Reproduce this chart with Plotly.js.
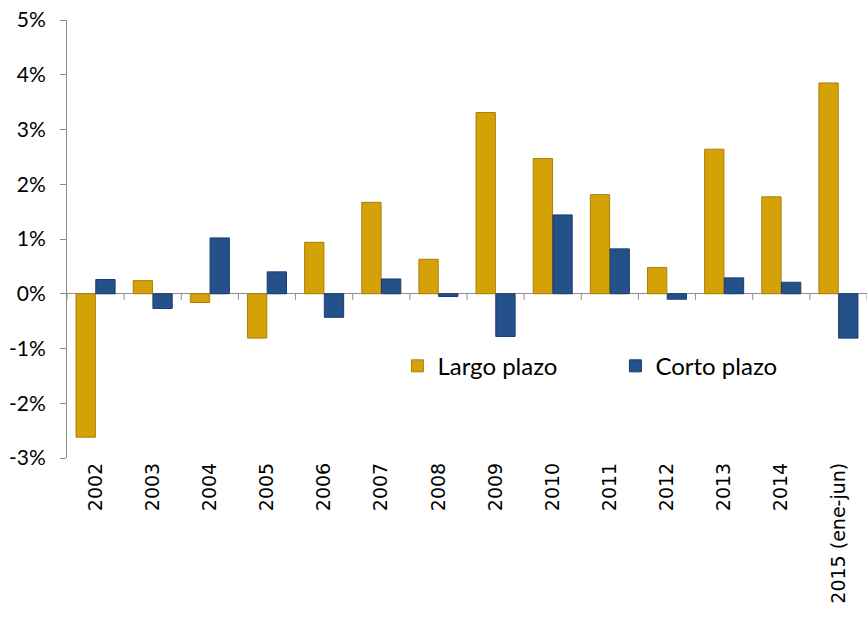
<!DOCTYPE html>
<html>
<head>
<meta charset="utf-8">
<script src="https://cdn.plot.ly/plotly-3.0.1.min.js"></script>
<style>html,body{margin:0;padding:0;background:#fff;}#chart{width:867px;height:621px;}</style>
</head>
<body>
<div id="chart"></div>
<script>
const categories = ["2002","2003","2004","2005","2006","2007","2008","2009","2010","2011","2012","2013","2014","2015 (ene-jun)"];
const largoPlazo = [-2.62, 0.24, -0.16, -0.81, 0.94, 1.67, 0.63, 3.31, 2.47, 1.81, 0.48, 2.64, 1.77, 3.85];
const cortoPlazo = [0.26, -0.27, 1.02, 0.40, -0.43, 0.27, -0.05, -0.78, 1.44, 0.82, -0.10, 0.29, 0.21, -0.81];
const yTicks = [-3, -2, -1, 0, 1, 2, 3, 4, 5];

const traces = [
  {type:'bar', name:'Largo plazo', x:categories, y:largoPlazo,
   marker:{color:'#D4A106', line:{color:'#A88008', width:1}}},
  {type:'bar', name:'Corto plazo', x:categories, y:cortoPlazo,
   marker:{color:'#24518A', line:{color:'#1A3D6A', width:1}}}
];

const shapes = [];
for (let i = 0; i <= categories.length; i++) {
  shapes.push({type:'line', xref:'x', yref:'y', x0:i-0.5, x1:i-0.5,
    ysizemode:'pixel', yanchor:0, y0:0, y1:-6, line:{color:'#8c8c8c', width:1}});
}

const layout = {
  width:867, height:621,
  margin:{l:67, r:0, t:20, b:163, autoexpand:false},
  paper_bgcolor:'#fff', plot_bgcolor:'#fff',
  font:{family:'Lato, "Open Sans", sans-serif', color:'#000'},
  barmode:'group', bargap:0.31, bargroupgap:0.02,
  showlegend:true,
  legend:{orientation:'h', x:0.413, y:0.2095, xanchor:'left', yanchor:'middle',
    font:{size:24, color:'#000'}, bgcolor:'rgba(0,0,0,0)', entrywidth:173, entrywidthmode:'pixels',
    itemwidth:30},
  xaxis:{type:'category', range:[-0.5, categories.length-0.5], showline:false, ticks:'',
    tickangle:-90, tickfont:{size:19, family:'"DejaVu Sans", sans-serif'}, showgrid:false, zeroline:false,
    automargin:false},
  yaxis:{range:[-3, 5], tickvals:yTicks, ticktext:yTicks.map(v=>v+'%'),
    showgrid:false, showline:true, linecolor:'#8c8c8c', linewidth:1,
    ticks:'outside', ticklen:6, tickcolor:'#8c8c8c', ticklabelstandoff:10,
    zeroline:true, zerolinecolor:'#8c8c8c', zerolinewidth:1,
    tickfont:{size:21}, automargin:false},
  shapes:shapes
};

Plotly.newPlot('chart', traces, layout, {displayModeBar:false, staticPlot:true});
</script>
</body>
</html>
